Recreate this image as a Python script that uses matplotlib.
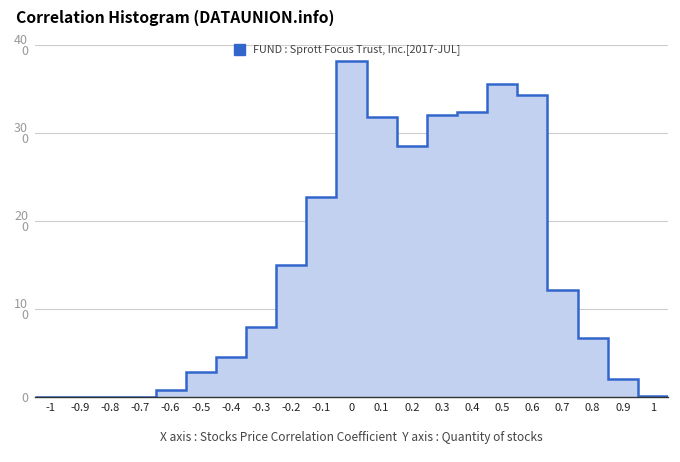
import numpy as np
import matplotlib as mpl
import matplotlib.pyplot as plt

mpl.rcParams['font.family'] = ['Noto Sans CJK KR', 'DejaVu Sans']

# histogram bins (centres) and counts
centers = np.round(np.arange(-1.0, 1.01, 0.1), 1)
counts = np.array([0, 0, 0, 0, 8, 28, 45, 79, 150, 227, 382, 318, 285,
                   320, 324, 356, 343, 122, 67, 21, 1])
tick_labels = ['-1', '-0.9', '-0.8', '-0.7', '-0.6', '-0.5', '-0.4', '-0.3',
               '-0.2', '-0.1', '0', '0.1', '0.2', '0.3', '0.4', '0.5', '0.6',
               '0.7', '0.8', '0.9', '1']
y_ticks = [0, 100, 200, 300, 400]
y_labels = ['0', '10\n0', '20\n0', '30\n0', '40\n0']
series_name = 'FUND : Sprott Focus Trust, Inc.[2017-JUL]'

line_col = '#3366cc'
fill_col = '#c2d1f0'

fig = plt.figure(figsize=(6.8, 4.62), dpi=100)
ax = fig.add_axes([35 / 680, 1 - 397 / 462, (668 - 35) / 680, (397 - 45) / 462])

edges = np.append(centers - 0.05, centers[-1] + 0.05)
ax.stairs(counts, edges, fill=True, color=fill_col, baseline=0)
ax.stairs(counts, edges, color=line_col, linewidth=1.8, baseline=None)

ax.set_xlim(-1.05, 1.05)
ax.set_ylim(0, 400)
ax.set_xticks(centers)
ax.set_xticklabels(tick_labels, fontsize=8, color='#222222')
ax.set_yticks(y_ticks)
ax.set_yticklabels(y_labels, fontsize=9, color='#999999', linespacing=0.85)
ax.tick_params(axis='both', length=0)
ax.tick_params(axis='x', pad=4)
ax.tick_params(axis='y', pad=5)
ax.grid(axis='y', color='#cccccc', linewidth=0.8)
ax.set_axisbelow(True)
for s in ['top', 'right', 'left']:
    ax.spines[s].set_visible(False)
ax.spines['bottom'].set_color('#333333')
ax.spines['bottom'].set_linewidth(1.0)
ax.spines['bottom'].set_zorder(3)

fig.text(16 / 680, 1 - 18 / 462, 'Correlation Histogram (DATAUNION.info)',
         fontsize=11.3, fontweight='bold', color='#000000', va='center', ha='left')

# legend
fig.patches.append(mpl.patches.Rectangle((234 / 680, 1 - 55 / 462), 11 / 680, 11 / 462,
                                         transform=fig.transFigure, color=line_col))
fig.text(253 / 680, 1 - 50 / 462, series_name, fontsize=7.8, color='#444444',
         va='center', ha='left')

fig.text(351 / 680, 1 - 438 / 462,
         'X axis : Stocks Price Correlation Coefficient  Y axis : Quantity of stocks',
         fontsize=8.6, color='#444444', va='center', ha='center')

fig.savefig('out.png', dpi=100)
